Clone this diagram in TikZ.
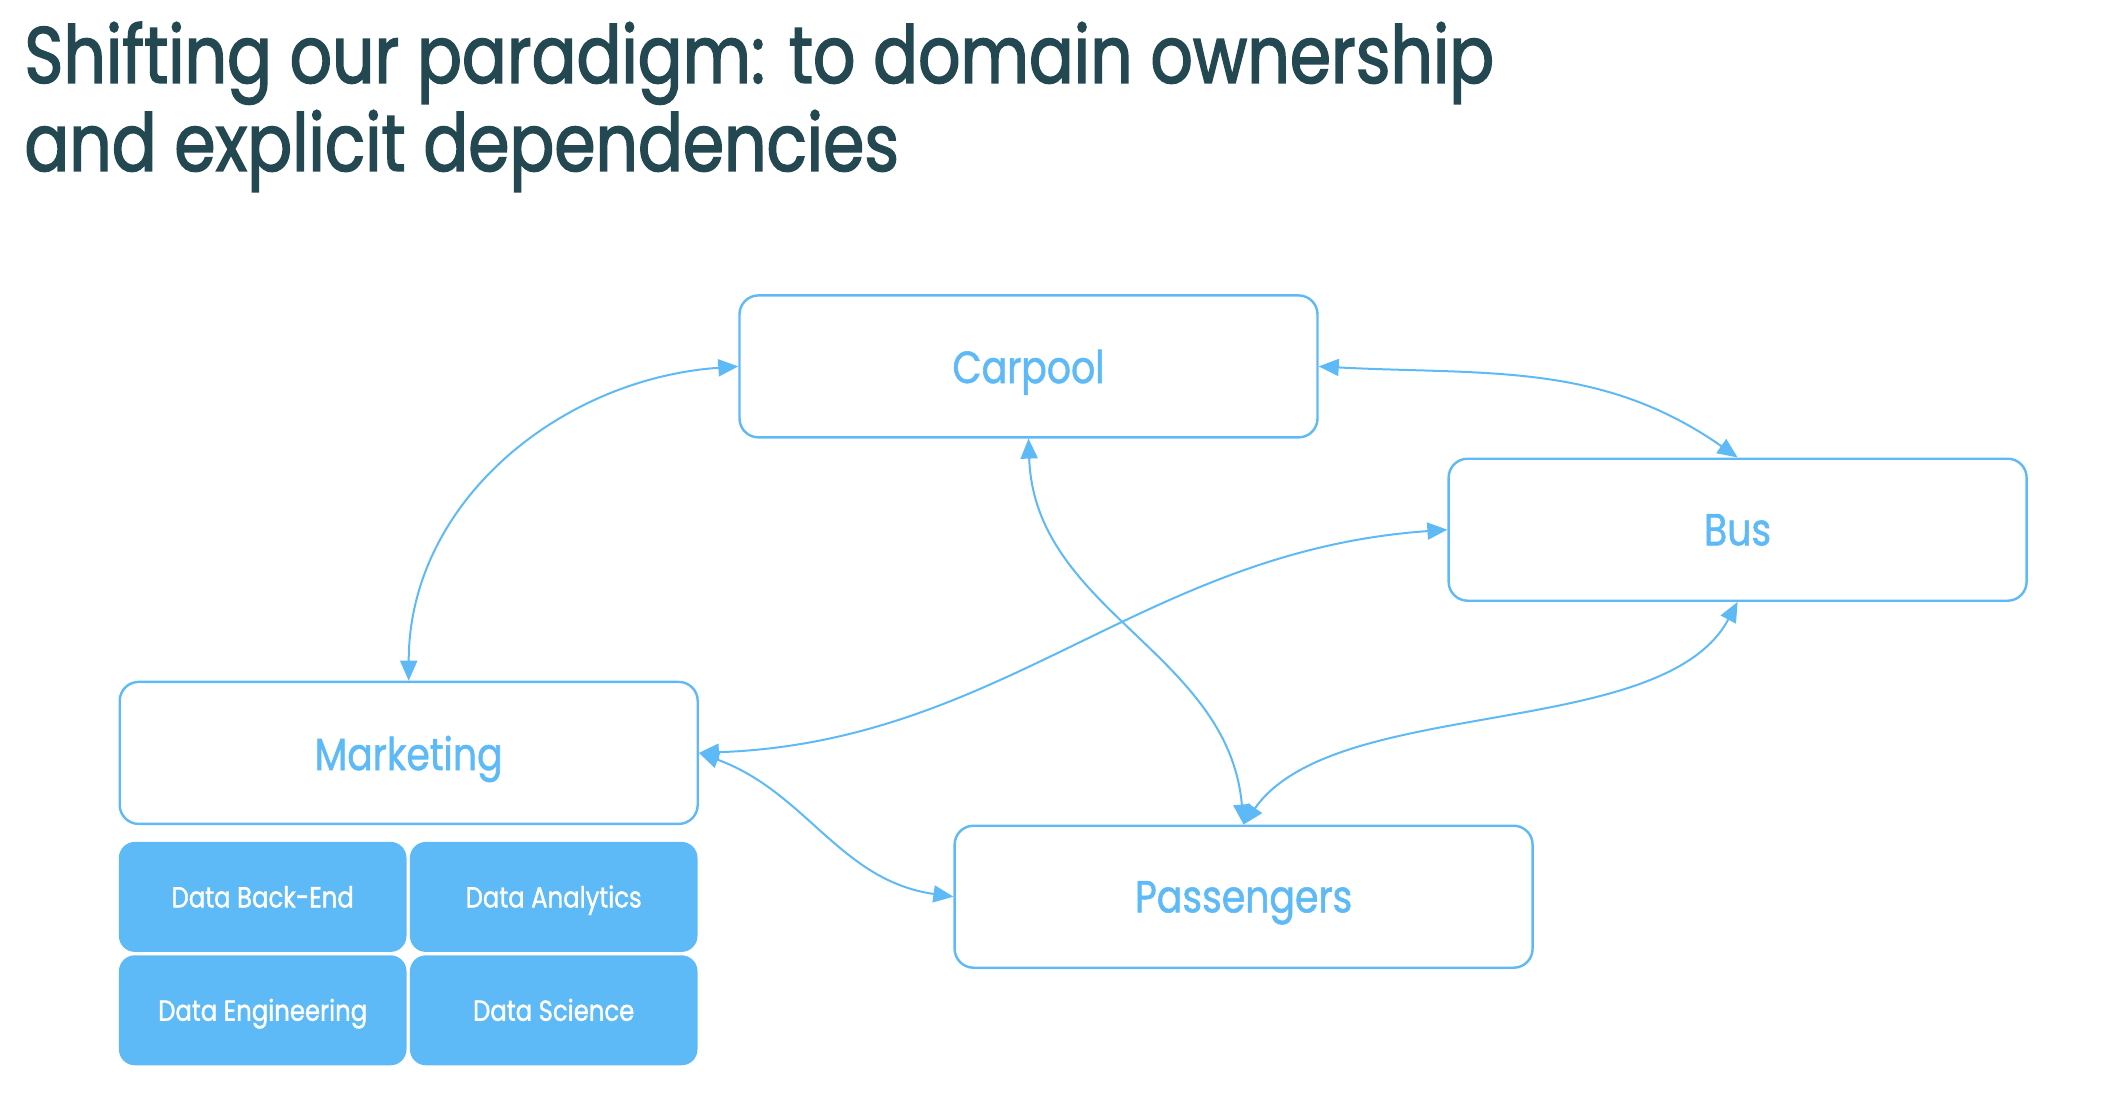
\documentclass[tikz,border=0pt]{standalone}
\usepackage{fontspec}
\setmainfont{Poppins}[FakeStretch=0.84, FakeBold=1.2]
\newfontfamily\headfont{Poppins}[FakeStretch=0.83, FakeBold=1.8]
\usetikzlibrary{positioning}
\usetikzlibrary{arrows.meta}
\definecolor{paneblue}{HTML}{5DBAF7}
\definecolor{headteal}{HTML}{234852}

\tikzset{
  domainbox/.style={draw=paneblue, line width=1.2pt, rounded corners=9.5pt, minimum width=289pt, minimum height=71pt, inner sep=0pt, text depth=0pt, text=paneblue, font=\fontsize{22.5}{27}\selectfont},
  teambox/.style={fill=paneblue, rounded corners=8pt, minimum width=143.8pt, minimum height=55pt, inner sep=0pt, text height=1.05em, text depth=0pt, text=white, font=\fontsize{14.5}{17}\selectfont},
  link/.style={draw=paneblue, line width=1pt, >={Triangle[length=10pt,width=8.5pt]}, <->},
  heading/.style={anchor=base west, inner sep=0pt, text=headteal, font=\headfont\fontsize{40}{48}\selectfont},
}

\begin{document}
\begin{tikzpicture}[x=0.5pt, y=0.5pt]
	\useasboundingbox (0,0) rectangle (2108,-1112);
	\node (titleone) [heading] at (24,-83) {Shifting our paradigm: to domain ownership};
	\node (titletwo) [heading] at (24,-171) {and explicit dependencies};
	% domains
	\node (carpool) [domainbox] at (1028.5,-366.4) {Carpool};
	\node (bus) [domainbox] at (1737.6,-529.7) {Bus};
	\node (marketing) [domainbox] at (408.7,-752.9) {Marketing};
	\node (passengers) [domainbox] at (1243.6,-896.7) {Passengers};
	% teams under marketing
	\node (backend) [teambox, below=8.2pt of marketing.south west, anchor=north west] {Data Back-End};
	\node (analytics) [teambox, right=1.3pt of backend] {Data Analytics};
	\node (engineering) [teambox, below=1.3pt of backend] {Data Engineering};
	\node (science) [teambox, right=1.3pt of engineering] {Data Science};
	% dependencies
	\draw [link] (carpool.west) to[out=184,in=90] (marketing.north);
	\draw [link] (carpool.east) to[out=-3,in=145] (bus.north);
	\draw [link] (carpool.south) to[out=-88,in=95] (passengers.north);
	\draw [link] (marketing.east) to[out=2,in=184] (bus.west);
	\draw [link] (marketing.east) to[out=-20,in=172] (passengers.west);
	\draw [link] (passengers.north) to[out=55,in=-118,looseness=0.75] (bus.south);
\end{tikzpicture}
\end{document}
